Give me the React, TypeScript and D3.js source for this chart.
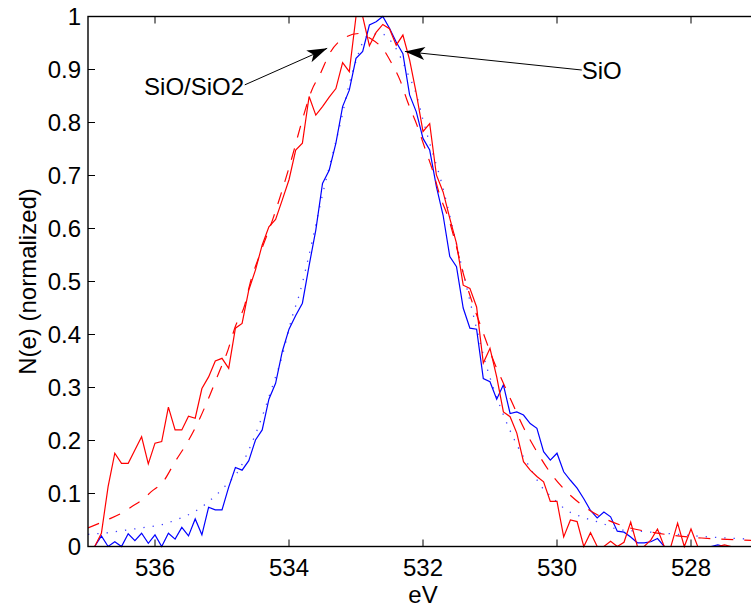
import React from 'react';
import * as d3 from 'd3';

const W = 751;
const H = 607;

// x grid: binding energy, 0.1 eV steps from 537.0 eV
const energies: number[] = d3.range(100).map((i) => +(537 - i * 0.1).toFixed(1));

// SiO/SiO2 measured spectrum (red solid)
const mixData: number[] = [
  0, 0, 0.025, 0.113, 0.176, 0.157, 0.157, 0.182, 0.207, 0.156,
  0.195, 0.198, 0.263, 0.22, 0.22, 0.246, 0.242, 0.298, 0.32, 0.35,
  0.355, 0.336, 0.412, 0.421, 0.484, 0.522, 0.569, 0.603, 0.617, 0.654,
  0.692, 0.748, 0.761, 0.849, 0.814, 0.83, 0.848, 0.864, 0.913, 0.896,
  1.0, 1.0, 0.945, 0.97, 0.985, 0.977, 0.946, 0.965, 0.918, 0.855,
  0.783, 0.798, 0.701, 0.669, 0.619, 0.572, 0.493, 0.487, 0.452, 0.346,
  0.374, 0.32, 0.254, 0.245, 0.214, 0.16, 0.144, 0.132, 0.122, 0.085,
  0.085, 0.018, 0.05, 0.047, 0, 0.026, 0, 0, 0.01, 0,
  0.008, 0.046, 0, 0, 0.012, 0.033, 0, 0, 0.044, 0,
  0.033, 0, 0, 0, 0, 0.003, 0, 0, 0, 0,
];

// SiO measured spectrum (blue solid)
const sioData: number[] = [
  0, 0, 0.02, 0, 0.009, 0, 0.024, 0.011, 0.025, 0.006,
  0.022, 0, 0.025, 0.014, 0.036, 0.02, 0.052, 0.022, 0.074, 0.069,
  0.069, 0.112, 0.149, 0.144, 0.162, 0.201, 0.22, 0.278, 0.308, 0.368,
  0.41, 0.436, 0.459, 0.53, 0.597, 0.685, 0.71, 0.761, 0.83, 0.861,
  0.921, 0.934, 0.984, 0.99, 1.0, 0.978, 0.952, 0.93, 0.852, 0.82,
  0.77, 0.748, 0.679, 0.625, 0.547, 0.528, 0.45, 0.412, 0.41, 0.317,
  0.311, 0.278, 0.305, 0.251, 0.254, 0.248, 0.232, 0.223, 0.179, 0.163,
  0.176, 0.141, 0.125, 0.11, 0.09, 0.068, 0.054, 0.065, 0.056, 0.029,
  0.027, 0.018, 0.007, 0.007, 0.009, 0.015, 0, 0, 0, 0,
  0, 0, 0, 0, 0.003, 0, 0, 0, 0, 0,
];

// SiO/SiO2 fit (red dashed)
const mixFitEv: number[] = [
  537.0, 536.7, 536.5, 536.35, 536.18, 536.06, 535.88, 535.7, 535.51, 535.33,
  535.18, 535.05, 534.91, 534.81, 534.66, 534.58, 534.43, 534.23, 534.11, 533.96,
  533.81, 533.66, 533.54, 533.39, 533.14, 532.95, 532.79, 532.57, 532.47, 532.34,
  532.23, 532.09, 531.97, 531.85, 531.75, 531.62, 531.52, 531.42, 531.09, 530.92,
  530.8, 530.64, 530.49, 530.31, 530.11, 529.87, 529.6, 529.26, 528.94, 528.59,
  528.2, 527.84, 527.46, 527.0,
];
const mixFitVal: number[] = [
  0.035, 0.051, 0.063, 0.075, 0.089, 0.103, 0.122, 0.16, 0.198, 0.242,
  0.286, 0.327, 0.371, 0.412, 0.456, 0.497, 0.553, 0.622, 0.669, 0.732,
  0.801, 0.861, 0.89, 0.931, 0.962, 0.968, 0.959, 0.934, 0.912, 0.879,
  0.839, 0.795, 0.751, 0.707, 0.663, 0.619, 0.575, 0.525, 0.399, 0.342,
  0.308, 0.263, 0.222, 0.181, 0.141, 0.105, 0.076, 0.051, 0.036, 0.027,
  0.02, 0.016, 0.0135, 0.011,
];

// SiO fit (blue dotted)
const sioFitEv: number[] = [
  537.0, 536.7, 536.43, 536.15, 535.88, 535.63, 535.38, 535.16, 534.96, 534.74,
  534.59, 534.49, 534.24, 534.1, 533.96, 533.84, 533.71, 533.49, 533.21, 533.11,
  533.01, 532.84, 532.64, 532.42, 532.24, 532.09, 532.0, 531.9, 531.72, 531.55,
  531.35, 531.05, 530.83, 530.6, 530.4, 530.25, 530.06, 529.86, 529.61, 529.33,
  529.08, 528.79, 528.39, 527.84, 527.14, 527.0,
];
const sioFitVal: number[] = [
  0.023, 0.026, 0.031, 0.036, 0.042, 0.053, 0.068, 0.089, 0.113, 0.146,
  0.185, 0.215, 0.305, 0.36, 0.43, 0.478, 0.545, 0.669, 0.811, 0.868,
  0.912, 0.962, 0.968, 0.943, 0.896, 0.849, 0.805, 0.761, 0.685, 0.597,
  0.49, 0.339, 0.258, 0.192, 0.148, 0.116, 0.091, 0.069, 0.055, 0.044,
  0.032, 0.029, 0.025, 0.019, 0.014, 0.013,
];

const xTicks: number[] = [536, 534, 532, 530, 528];
const yTicks: number[] = [0, 0.1, 0.2, 0.3, 0.4, 0.5, 0.6, 0.7, 0.8, 0.9, 1];

const xDomain: [number, number] = [537, 527];
const yDomain: [number, number] = [0, 1];

// annotations (data coordinates)
const annMix = { label: 'SiO/SiO2', textEv: 534.67, textVal: 0.852, tailEv: 534.66, tailVal: 0.871, tipEv: 533.43, tipVal: 0.94 };
const annSio = { label: 'SiO', textEv: 529.63, textVal: 0.8815, tailEv: 529.63, tailVal: 0.899, tipEv: 532.27, tipVal: 0.934 };

const FONT = "'Liberation Sans', Arial, Helvetica, sans-serif";

function arrowHead(x1: number, y1: number, x2: number, y2: number, L = 20, w = 6.5, notch = 5) {
  const dx = x2 - x1, dy = y2 - y1;
  const len = Math.hypot(dx, dy);
  const ux = dx / len, uy = dy / len;
  const nx = -uy, ny = ux;
  const bx = x2 - ux * L, by = y2 - uy * L;
  const mx = x2 - ux * (L - notch), my = y2 - uy * (L - notch);
  return `M${x2},${y2} L${bx + nx * w},${by + ny * w} L${mx},${my} L${bx - nx * w},${by - ny * w} Z`;
}

export default function App() {
  const x = d3.scaleLinear().domain(xDomain).range([88, 758]);
  const y = d3.scaleLinear().domain(yDomain).range([546.5, 16.5]);

  const lineRaw = d3.line<[number, number]>().x((d) => x(d[0])).y((d) => y(d[1]));
  const lineSmooth = d3.line<[number, number]>().x((d) => x(d[0])).y((d) => y(d[1])).curve(d3.curveMonotoneX);

  const mixPts = energies.map((e, i) => [e, mixData[i]] as [number, number]);
  const sioPts = energies.map((e, i) => [e, sioData[i]] as [number, number]);
  const mixFitPts = mixFitEv.map((e, i) => [e, mixFitVal[i]] as [number, number]);
  const sioFitPts = sioFitEv.map((e, i) => [e, sioFitVal[i]] as [number, number]);

  const [x0, x1] = x.range();
  const [yb, yt] = y.range();

  const renderAnn = (a: typeof annMix, anchor: 'start' | 'end') => {
    const tx = x(a.tailEv), ty = y(a.tailVal), px = x(a.tipEv), py = y(a.tipVal);
    return (
      <g>
        <line x1={tx} y1={ty} x2={px} y2={py} stroke="#000" strokeWidth={1} />
        <path d={arrowHead(tx, ty, px, py)} fill="#000" />
        <text x={x(a.textEv)} y={y(a.textVal)} textAnchor={anchor} fontSize={24} fontFamily={FONT} fill="#000">
          {a.label}
        </text>
      </g>
    );
  };

  return (
    <svg width={W} height={H} style={{ position: 'absolute', left: 0, top: 0, background: '#fff' }}>
      <rect x={0} y={0} width={W} height={H} fill="#fff" />
      <defs>
        <clipPath id="plotClip">
          <rect x={x0} y={yt - 2} width={x1 - x0} height={yb - yt + 4} />
        </clipPath>
      </defs>

      <g clipPath="url(#plotClip)" fill="none">
        <path d={lineSmooth(sioFitPts) || ''} stroke="#0000ff" strokeWidth={1.3} strokeDasharray="1.3 8" opacity={0.75} />
        <path d={lineRaw(sioPts) || ''} stroke="#0000ff" strokeWidth={1.2} />
        <path d={lineSmooth(mixFitPts) || ''} stroke="#ff0000" strokeWidth={1.2} strokeDasharray="12 11" />
        <path d={lineRaw(mixPts) || ''} stroke="#ff0000" strokeWidth={1.2} />
      </g>

      {/* axes box */}
      <rect x={x0} y={yt} width={x1 - x0} height={yb - yt} fill="none" stroke="#000" strokeWidth={1.4} />

      {/* x ticks */}
      {xTicks.map((t) => (
        <g key={'x' + t}>
          <line x1={x(t)} x2={x(t)} y1={yb} y2={yb - 7} stroke="#000" strokeWidth={1} />
          <line x1={x(t)} x2={x(t)} y1={yt} y2={yt + 7} stroke="#000" strokeWidth={1} />
          <text x={x(t)} y={yb + 29} textAnchor="middle" fontSize={24} fontFamily={FONT} fill="#000">
            {t}
          </text>
        </g>
      ))}

      {/* y ticks */}
      {yTicks.map((t) => (
        <g key={'y' + t}>
          <line x1={x0} x2={x0 + 7} y1={y(t)} y2={y(t)} stroke="#000" strokeWidth={1} />
          <line x1={x1} x2={x1 - 7} y1={y(t)} y2={y(t)} stroke="#000" strokeWidth={1} />
          <text x={x0 - 7} y={y(t)} dy="0.36em" textAnchor="end" fontSize={24} fontFamily={FONT} fill="#000">
            {d3.format('~g')(t)}
          </text>
        </g>
      ))}

      <text x={(x0 + x1) / 2} y={603} textAnchor="middle" fontSize={24} fontFamily={FONT} fill="#000">
        eV
      </text>
      <text
        transform={`translate(36, ${(yt + yb) / 2}) rotate(-90)`}
        textAnchor="middle"
        fontSize={24}
        fontFamily={FONT}
        fill="#000"
      >
        N(e) (normalized)
      </text>

      {renderAnn(annMix, 'end')}
      {renderAnn(annSio, 'start')}
    </svg>
  );
}
